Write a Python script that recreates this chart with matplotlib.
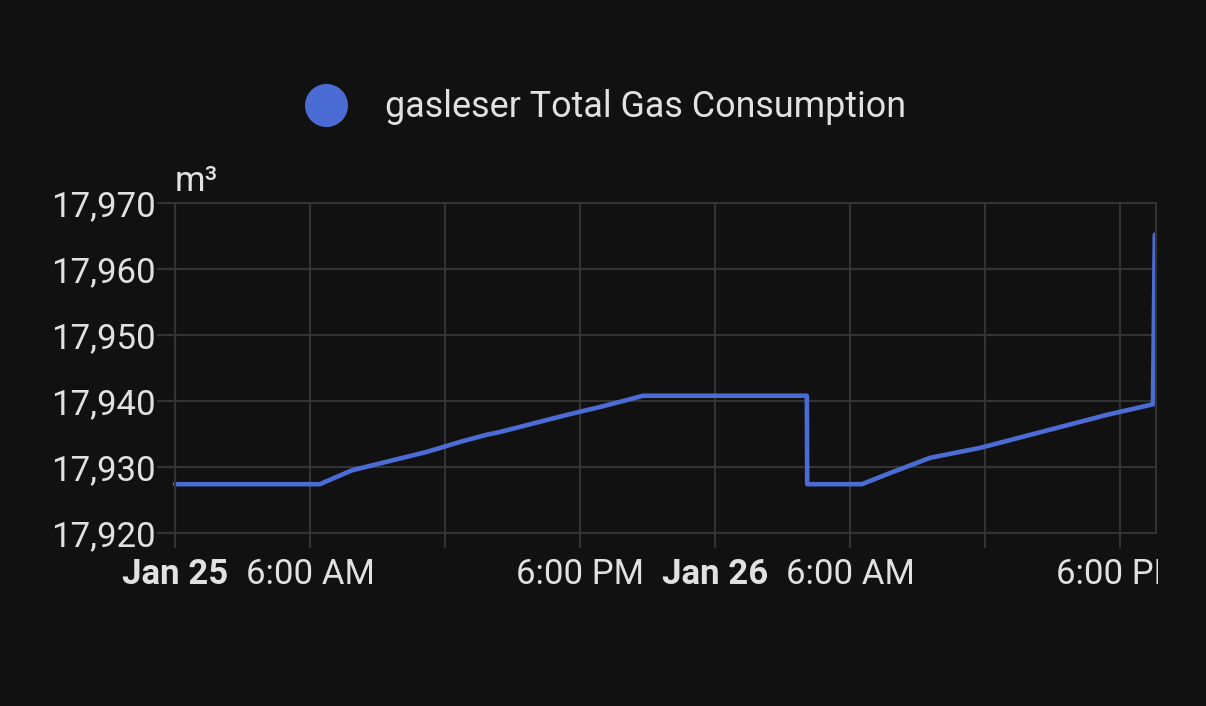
import numpy as np
import matplotlib.pyplot as plt
from matplotlib.transforms import Bbox, TransformedBbox
from matplotlib.lines import Line2D

# readings of the gas meter (m3)
times = np.array([
    "2024-01-25T00:00", "2024-01-25T06:26", "2024-01-25T07:52",
    "2024-01-25T11:12", "2024-01-25T12:05", "2024-01-25T12:46",
    "2024-01-25T13:52", "2024-01-25T14:26", "2024-01-25T17:25",
    "2024-01-25T19:01", "2024-01-25T19:55", "2024-01-25T20:48",
    "2024-01-26T04:05", "2024-01-26T04:06", "2024-01-26T06:32",
    "2024-01-26T07:52", "2024-01-26T09:34", "2024-01-26T11:47",
    "2024-01-26T17:25", "2024-01-26T19:28", "2024-01-26T19:33",
], dtype="datetime64[m]")
values = np.array([
    17927.4, 17927.4, 17929.5,
    17932.3, 17933.2, 17933.9,
    17934.9, 17935.3, 17937.9,
    17939.2, 17940.0, 17940.8,
    17940.8, 17927.4, 17927.4,
    17929.2, 17931.4, 17932.9,
    17937.9, 17939.5, 17965.2,
])
series_name = "gasleser Total Gas Consumption"
unit = "m³"
y_ticks = [17920, 17930, 17940, 17950, 17960, 17970]
x_start = np.datetime64("2024-01-25T00:00")
x_end = np.datetime64("2024-01-26T19:36")
x_tick_labels = ["Jan 25", "6:00 AM", "", "6:00 PM",
                 "Jan 26", "6:00 AM", "", "6:00 PM"]

bg = "#111111"
grid_col = "#333333"
text_col = "#e1e1e1"
line_col = "#4b6cd5"
font = "Roboto"

fig = plt.figure(figsize=(12.06, 7.06), dpi=100, facecolor=bg)
ax = fig.add_axes([0.1451, 0.245, 0.8134, 0.4675], facecolor=bg)

ax.plot(times, values, color=line_col, lw=3.3, solid_joinstyle="round",
        solid_capstyle="round", clip_on=False)

ax.set_ylim(17920, 17970)
ax.set_xlim(x_start, x_end)
ax.set_yticks(y_ticks)
ax.set_yticklabels([f"{v:,}" for v in y_ticks], fontsize=25, family=font,
                   color=text_col)

x_ticks = x_start + np.arange(8) * np.timedelta64(6, "h")
ax.set_xticks(x_ticks)
ax.set_xticklabels(x_tick_labels, fontsize=25, family=font, color=text_col)
for lab in ax.get_xticklabels():
    if lab.get_text().startswith("Jan"):
        lab.set_fontweight("bold")
    # last label is cut at the right edge of the chart
    lab.set_clip_box(TransformedBbox(Bbox([[0, 0], [0.9605, 1]]),
                                     fig.transFigure))
    lab.set_clip_on(True)

ax.grid(True, color=grid_col, lw=1.5)
ax.tick_params(axis="y", length=13, width=1.5, color=grid_col, pad=1)
ax.tick_params(axis="x", length=11, width=1.5, color=grid_col, pad=7)
for s in ax.spines.values():
    s.set_color(grid_col)
    s.set_linewidth(1.5)

fig.text(0.1451, 0.72, unit, fontsize=25, family=font, color=text_col,
         ha="left", va="bottom")

fig.legend(handles=[Line2D([], [], ls="", marker="o", ms=30, color=line_col)],
           labels=[series_name], loc="center", bbox_to_anchor=(0.499, 0.848),
           frameon=False, handletextpad=0.85, handlelength=1.6,
           prop={"family": font, "size": 25.8}, labelcolor=text_col)

fig.savefig("out.png", facecolor=bg)
